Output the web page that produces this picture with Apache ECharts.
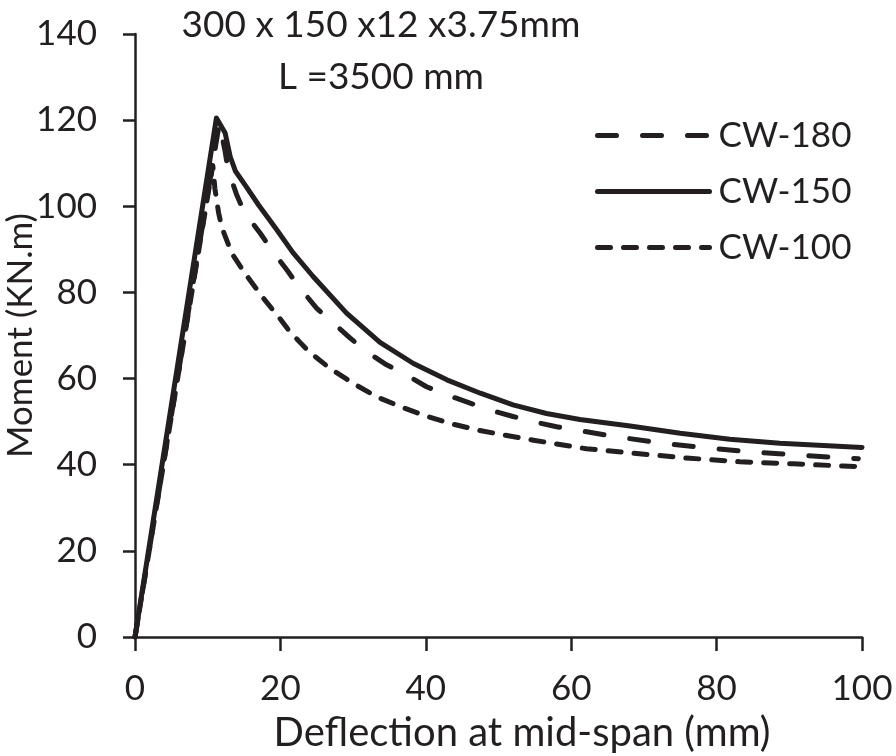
<!DOCTYPE html>
<html>
<head>
<meta charset="utf-8">
<script src="https://cdn.jsdelivr.net/npm/echarts@6/dist/echarts.min.js"></script>
<style>
html,body{margin:0;padding:0;background:#fff;}
#chart{width:896px;height:756px;}
</style>
</head>
<body>
<div id="chart"></div>
<script>
// ---- data ----
var seriesNames = ['CW-180', 'CW-150', 'CW-100'];
var xTicks = [0, 20, 40, 60, 80, 100];
var yTicks = [0, 20, 40, 60, 80, 100, 120, 140];
var titleLine1 = '300 x 150 x12 x3.75mm';
var titleLine2 = 'L =3500 mm';
var xName = 'Deflec\u200Ction at mid-span (mm)';
var yName = 'Moment (KN.m)';

var cw180 = [[0,0],[11.6,119.3],[12.0,116],[12.4,112.7],[12.8,108.5],[14.0,102.6],[15.1,98.4],[17.2,93.8],[18.8,89.9],[20.9,85.2],[22.7,81.0],[25.0,76.3],[26.8,73.6],[29.6,69.4],[31.9,66.2],[34.6,63.2],[37.4,60.8],[40.1,58.1],[42.9,56.2],[46.1,54.3],[48.8,52.7],[52.0,51.2],[54.8,50.0],[58.0,48.8],[61.2,47.9],[65.8,46.6],[72.0,45.1],[78.2,44.0],[84.6,43.0],[90.8,42.3],[97.0,41.6],[99.5,41.4]];
var cw150 = [[0,0],[11.2,120.5],[12.4,117.0],[13.1,111.5],[13.8,108.2],[15.2,104.8],[17.0,100.3],[19.4,94.8],[21.7,89.3],[24.5,83.7],[29.1,75.2],[33.7,68.4],[38.3,63.5],[42.9,59.7],[47.5,56.6],[52.0,53.9],[56.6,51.9],[61.2,50.5],[68.1,49.0],[75.0,47.3],[81.8,45.9],[88.7,45.0],[100,44.0]];
var cw100 = [[0,0],[10.7,109.5],[11.0,104.0],[11.5,98.5],[11.9,95.3],[13.3,89.1],[15.1,84.5],[17.5,79.0],[19.9,74.0],[21.3,70.9],[22.7,68.4],[24.1,66.0],[26.8,62.4],[30.0,58.9],[33.2,55.8],[36.5,53.5],[39.7,51.5],[43.3,49.6],[47.0,48.1],[50.7,46.9],[54.8,45.7],[58.0,44.8],[62.1,43.7],[69.0,42.6],[76.3,41.5],[83.2,40.7],[90.6,40.2],[97.4,39.7],[99.0,39.6]];

var INK = '#231f20';
var FONT = 'Lato';
var LW = 5;

var chart = echarts.init(document.getElementById('chart'), null, {renderer: 'canvas'});

function mkSeries(name, data, dash) {
  return {
    name: name,
    type: 'line',
    data: data,
    symbol: 'none',
    smooth: false,
    lineStyle: {color: INK, width: LW, type: dash, cap: 'round', join: 'round'},
    itemStyle: {color: INK},
    z: 3
  };
}

var option = {
  animation: false,
  backgroundColor: '#fff',
  grid: {left: 135, right: 34, top: 34, bottom: 119, containLabel: false, outerBoundsMode: 'none'},
  graphic: [
    {type: 'text', x: 381, y: 25, style: {text: titleLine1, font: '37px Lato', fill: INK, align: 'center', verticalAlign: 'middle'}},
    {type: 'text', x: 381, y: 77, style: {text: titleLine2, font: '37px Lato', fill: INK, align: 'center', verticalAlign: 'middle'}}
  ],
  legend: {
    orient: 'vertical',
    left: 590,
    top: 113,
    itemWidth: 112,
    itemHeight: 30,
    itemGap: 21,
    data: seriesNames,
    itemStyle: {opacity: 0},
    lineStyle: {width: LW, cap: 'round'},
    textStyle: {fontFamily: FONT, fontSize: 35, color: INK, lineHeight: 30, padding: [0,0,0,4]}
  },
  xAxis: {
    type: 'value',
    min: 0, max: 100, interval: 20,
    name: xName,
    nameLocation: 'middle',
    nameGap: 76,
    nameMoveOverlap: false,
    nameTextStyle: {fontFamily: FONT, fontSize: 40, color: INK, padding: [0,0,0,47]},
    axisLine: {show: true, lineStyle: {color: INK, width: 2.5}},
    axisTick: {show: true, inside: false, length: 14, lineStyle: {color: INK, width: 2.5}},
    axisLabel: {fontFamily: FONT, fontSize: 35, color: INK, margin: 34,
      formatter: function (v) { return xTicks.indexOf(v) >= 0 ? String(v) : ''; }},
    splitLine: {show: false}
  },
  yAxis: {
    type: 'value',
    min: 0, max: 140, interval: 20,
    name: yName,
    nameLocation: 'middle',
    nameGap: 97,
    nameMoveOverlap: false,
    nameTextStyle: {fontFamily: FONT, fontSize: 35, color: INK},
    axisLine: {show: true, lineStyle: {color: INK, width: 2.5}},
    axisTick: {show: true, inside: false, length: 12, lineStyle: {color: INK, width: 2.5}},
    axisLabel: {fontFamily: FONT, fontSize: 35, color: INK, margin: 38,
      formatter: function (v) { return yTicks.indexOf(v) >= 0 ? String(v) : ''; }},
    splitLine: {show: false}
  },
  series: [
    mkSeries(seriesNames[0], cw180, [19, 26]),
    mkSeries(seriesNames[1], cw150, 'solid'),
    mkSeries(seriesNames[2], cw100, [13, 13])
  ]
};
chart.setOption(option);
</script>
</body>
</html>
